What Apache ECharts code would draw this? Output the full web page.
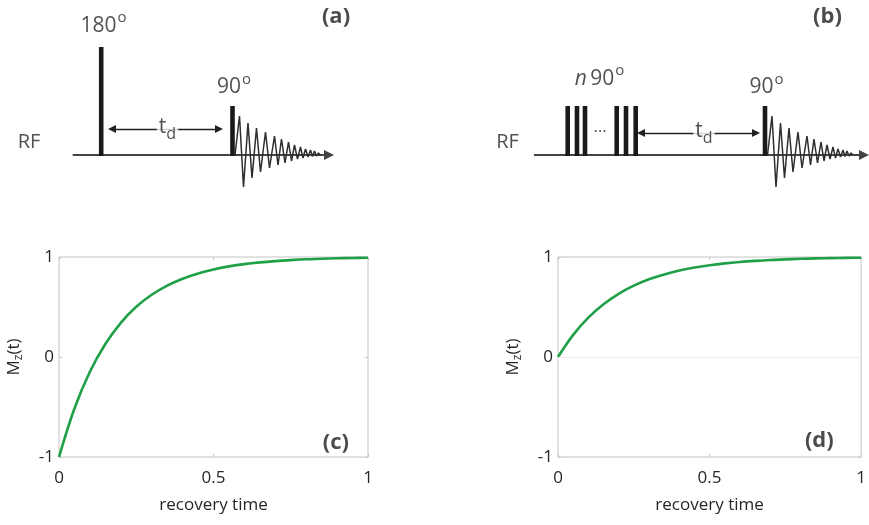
<!DOCTYPE html>
<html>
<head>
<meta charset="utf-8">
<script src="https://cdn.jsdelivr.net/npm/echarts@6/dist/echarts.min.js"></script>
<style>
  html, body { margin: 0; padding: 0; background: #ffffff; }
  #chart { width: 869px; height: 525px; }
</style>
</head>
<body>
<div id="chart"></div>
<script>
// Longitudinal magnetisation recovery, sampled on a normalised time axis
const recoveryTime = [0, 0.05, 0.1, 0.15, 0.2, 0.25, 0.3, 0.35, 0.4, 0.45, 0.5,
                      0.55, 0.6, 0.65, 0.7, 0.75, 0.8, 0.85, 0.9, 0.95, 1];
const mzInversion  = [-1, -0.515, -0.147, 0.130, 0.342, 0.502, 0.622, 0.714, 0.783, 0.836, 0.876,
                      0.906, 0.929, 0.946, 0.959, 0.969, 0.977, 0.982, 0.987, 0.990, 0.993];
const mzSaturation = [0, 0.221, 0.393, 0.528, 0.632, 0.713, 0.777, 0.826, 0.865, 0.895, 0.918,
                      0.936, 0.950, 0.961, 0.970, 0.976, 0.982, 0.986, 0.989, 0.991, 0.993];
const timeTicks = [0, 0.5, 1];
const mzTicks = [-1, 0, 1];

// RF pulse sequences: pulse times and pulse amplitudes
const inversionPulseTimes   = [10.12, 23.25];
const inversionPulseHeights = [1.08, 0.49];
const saturationPulseTimes   = [13.37, 14.3, 15.1, 18.27, 19.2, 20.17, 33.1];
const saturationPulseHeights = [0.49, 0.49, 0.49, 0.49, 0.49, 0.49, 0.49];

// Free induction decay after the read-out pulse (time offset, amplitude)
const fidOffsets    = [0.25, 0.7, 1.1, 1.55, 1.95, 2.4, 2.8, 3.3, 3.7, 4.2, 4.55, 4.9, 5.25,
                       5.6, 5.9, 6.2, 6.5, 6.8, 7.05, 7.3, 7.55, 7.8, 8.0, 8.2, 8.4, 8.6, 8.8];
const fidAmplitudes = [0, 0.39, -0.32, 0.32, -0.23, 0.27, -0.17, 0.23, -0.13, 0.19, -0.10, 0.16, -0.08,
                       0.13, -0.06, 0.10, -0.04, 0.08, -0.03, 0.06, -0.02, 0.05, -0.015, 0.04, -0.01, 0.02, 0];

// Time line extents and recovery delay t_d for each sequence
const inversionTimeLine  = [7.27, 32.9];
const saturationTimeLine = [10.0, 43.0];
const inversionDelay  = [11.2, 21.9];
const saturationDelay = [20.7, 32.2];

const FONT = "'Open Sans', 'DejaVu Sans', sans-serif";
const TEXT = '#262626';

function pulseSeries(times, heights, idx) {
  return {
    type: 'custom', xAxisIndex: idx, yAxisIndex: idx, clip: false, silent: true, z: 4,
    data: times.map((t, i) => [t, heights[i]]),
    renderItem: function (params, api) {
      const base = api.coord([api.value(0), 0]);
      const top = api.coord([api.value(0), api.value(1)]);
      const w = 4.6;
      return {
        type: 'rect',
        shape: { x: base[0] - w / 2, y: top[1], width: w, height: base[1] - top[1] + 1 },
        style: { fill: '#1a1a1a' }
      };
    }
  };
}

function fidSeries(pulseTime, idx) {
  return {
    type: 'line', xAxisIndex: idx, yAxisIndex: idx, clip: false, silent: true, z: 3,
    showSymbol: false, symbol: 'none',
    lineStyle: { color: '#2e2e2e', width: 1.5 },
    data: fidOffsets.map((o, i) => [pulseTime + o, fidAmplitudes[i]])
  };
}

function timeLineSeries(extent, idx) {
  return {
    type: 'lines', coordinateSystem: 'cartesian2d', xAxisIndex: idx, yAxisIndex: idx,
    silent: true, z: 2,
    symbol: ['none', 'triangle'], symbolSize: 10,
    lineStyle: { color: '#444444', width: 2, opacity: 1 },
    data: [{ coords: [[extent[0], 0], [extent[1], 0]] }]
  };
}

function delaySeries(extent, level, idx) {
  return {
    type: 'lines', coordinateSystem: 'cartesian2d', xAxisIndex: idx, yAxisIndex: idx,
    silent: true, z: 2,
    symbol: ['triangle', 'triangle'], symbolSize: 8,
    lineStyle: { color: '#222222', width: 1.3, opacity: 1 },
    data: [{ coords: [[extent[0], level], [extent[1], level]] }]
  };
}

const richText = {
  n:   { fontSize: 21, fontFamily: FONT, color: TEXT },
  ni:  { fontSize: 21, fontFamily: FONT, color: TEXT, fontStyle: 'italic' },
  o:   { fontSize: 15, fontFamily: FONT, color: TEXT, padding: [0, 0, 16, 1] },
  t:   { fontSize: 21, fontFamily: FONT, color: TEXT },
  d:   { fontSize: 16, fontFamily: FONT, color: TEXT, padding: [15, 0, 0, 0] },
  rf:  { fontSize: 20, fontFamily: FONT, color: TEXT },
  tag: { fontSize: 22, fontFamily: FONT, color: '#1e1e1e', fontWeight: 'bold' },
  dots:{ fontSize: 17, fontFamily: FONT, color: TEXT }
};

function textSeries(items, idx) {
  return {
    type: 'scatter', xAxisIndex: idx, yAxisIndex: idx, clip: false, silent: true, z: 10,
    symbolSize: 0,
    label: { show: true, position: 'inside', rich: richText },
    data: items.map(it => ({
      value: it.at,
      label: Object.assign({ formatter: it.text }, it.bg ? { backgroundColor: '#ffffff', padding: [0, 2] } : {})
    }))
  };
}

function plotAxes(gridIdx) {
  const tickStyle = { show: true, inside: true, length: 3, lineStyle: { color: '#c4c4c4' } };
  const noLine = { show: false, onZero: false };
  return {
    x: [
      {
        type: 'value', gridIndex: gridIdx, min: 0, max: 1, interval: 0.5,
        axisLine: noLine, splitLine: { show: false },
        axisTick: Object.assign({ customValues: timeTicks }, tickStyle),
        axisLabel: { customValues: timeTicks, margin: 13, fontSize: 17, color: TEXT, fontFamily: FONT },
        name: 'recovery time', nameLocation: 'middle', nameGap: 40,
        nameTextStyle: { fontSize: 17, color: TEXT, fontFamily: FONT }
      },
      {
        type: 'value', gridIndex: gridIdx, position: 'top', min: 0, max: 1, interval: 0.5,
        axisLine: noLine, splitLine: { show: false }, axisLabel: { show: false },
        axisTick: Object.assign({ customValues: timeTicks }, tickStyle)
      }
    ],
    y: [
      {
        type: 'value', gridIndex: gridIdx, min: -1, max: 1, interval: 1,
        axisLine: noLine, splitLine: { show: false },
        axisTick: Object.assign({ customValues: mzTicks }, tickStyle),
        axisLabel: { customValues: mzTicks, margin: 5, fontSize: 17, color: TEXT, fontFamily: FONT },
        name: 'M{z|z}(t)', nameLocation: 'middle', nameGap: 34, nameRotate: 90,
        nameTextStyle: {
          fontSize: 17, color: TEXT, fontFamily: FONT,
          rich: { z: { fontSize: 12, color: TEXT, fontFamily: FONT, padding: [9, 0, 0, 0] } }
        }
      },
      {
        type: 'value', gridIndex: gridIdx, position: 'right', min: -1, max: 1, interval: 1,
        axisLine: noLine, splitLine: { show: false }, axisLabel: { show: false },
        axisTick: Object.assign({ customValues: mzTicks }, tickStyle)
      }
    ]
  };
}

const axesC = plotAxes(2);
const axesD = plotAxes(3);

const hiddenX = (idx, max) => ({ type: 'value', gridIndex: idx, min: 0, max: max, show: false });
const hiddenY = (idx) => ({ type: 'value', gridIndex: idx, min: -0.5, max: 1.5, show: false });

const option = {
  animation: false,
  backgroundColor: '#ffffff',
  grid: [
    { left: 0,   top: 5,   width: 434, height: 200, show: false },
    { left: 434, top: 5,   width: 435, height: 200, show: false },
    { left: 59,  top: 257, width: 309, height: 200, show: true, borderColor: '#c4c4c4', borderWidth: 1 },
    { left: 558, top: 257, width: 309, height: 200, show: true, borderColor: '#c4c4c4', borderWidth: 1 }
  ],
  // axis order: 0,1 sequence panels; 2,3 plot (c)/(d) main axes; 4,5 mirrored frame ticks
  xAxis: [hiddenX(0, 43.4), hiddenX(1, 43.5), axesC.x[0], axesD.x[0], axesC.x[1], axesD.x[1]],
  yAxis: [hiddenY(0), hiddenY(1), axesC.y[0], axesD.y[0], axesC.y[1], axesD.y[1]],
  series: [
    // (a) inversion recovery sequence
    timeLineSeries(inversionTimeLine, 0),
    delaySeries(inversionDelay, 0.26, 0),
    fidSeries(inversionPulseTimes[inversionPulseTimes.length - 1], 0),
    pulseSeries(inversionPulseTimes, inversionPulseHeights, 0),
    textSeries([
      { at: [10.35, 1.29], text: '{n|180}{o|o}' },
      { at: [23.4, 0.675], text: '{n|90}{o|o}' },
      { at: [2.9, 0.13],   text: '{rf|RF}' },
      { at: [33.6, 1.38],  text: '{tag|(a)}' },
      { at: [16.75, 0.28], text: '{t|t}{d|d}', bg: true }
    ], 0),

    // (b) saturation recovery sequence
    timeLineSeries(saturationTimeLine, 1),
    delaySeries(saturationDelay, 0.22, 1),
    fidSeries(saturationPulseTimes[saturationPulseTimes.length - 1], 1),
    pulseSeries(saturationPulseTimes, saturationPulseHeights, 1),
    textSeries([
      { at: [16.55, 0.76], text: '{ni|n} {n|90}{o|o}' },
      { at: [33.25, 0.675], text: '{n|90}{o|o}' },
      { at: [7.35, 0.13],  text: '{rf|RF}' },
      { at: [39.35, 1.38], text: '{tag|(b)}' },
      { at: [16.6, 0.28],  text: '{dots|…}' },
      { at: [27.0, 0.24],  text: '{t|t}{d|d}', bg: true }
    ], 1),

    // (c) inversion recovery curve
    {
      type: 'line', xAxisIndex: 2, yAxisIndex: 2, smooth: 0.35,
      showSymbol: false, symbol: 'none',
      lineStyle: { color: '#20a046', width: 2.6 }, z: 3,
      data: recoveryTime.map((t, i) => [t, mzInversion[i]])
    },
    textSeries([{ at: [0.896, -0.86], text: '{tag|(c)}' }], 2),

    // (d) saturation recovery curve
    {
      type: 'line', xAxisIndex: 3, yAxisIndex: 3, smooth: 0.35,
      showSymbol: false, symbol: 'none',
      lineStyle: { color: '#20a046', width: 2.6 }, z: 3,
      data: recoveryTime.map((t, i) => [t, mzSaturation[i]]),
      markLine: {
        silent: true, symbol: 'none', label: { show: false },
        lineStyle: { color: '#ececec', width: 1, type: 'solid' },
        data: [{ yAxis: 0 }]
      }
    },
    textSeries([{ at: [0.862, -0.84], text: '{tag|(d)}' }], 3)
  ]
};

const chart = echarts.init(document.getElementById('chart'), null, { renderer: 'canvas' });
chart.setOption(option);
</script>
</body>
</html>
